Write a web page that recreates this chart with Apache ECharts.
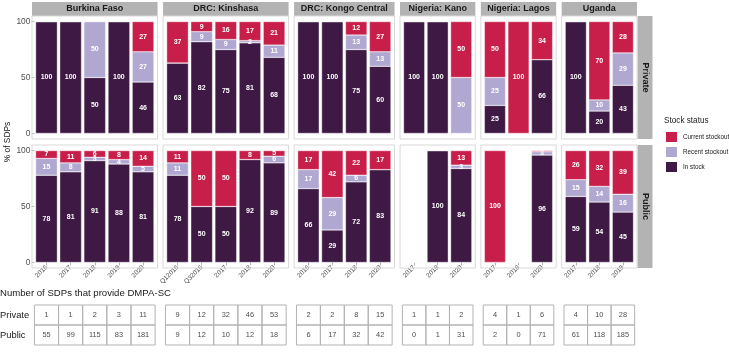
<!DOCTYPE html>
<html>
<head>
<meta charset="utf-8">
<script src="https://cdn.jsdelivr.net/npm/echarts@6/dist/echarts.min.js"></script>
<style>
  html, body { margin: 0; padding: 0; background: #fff; }
  #app { width: 729px; height: 355px; }
</style>
</head>
<body>
<div id="app"></div>
<script>
// facets and their survey rounds
const panels = ["Burkina Faso", "DRC: Kinshasa", "DRC: Kongo Central", "Nigeria: Kano", "Nigeria: Lagos", "Uganda"];
const rounds = [
  ["2016", "2017", "2018", "2019", "2020"],
  ["Q12016", "Q32016", "2017", "2018", "2020"],
  ["2016", "2017", "2018", "2020"],
  ["2017", "2018", "2020"],
  ["2017", "2018", "2020"],
  ["2017", "2018", "2019"]
];
const sectors = ["Private", "Public"];
const statuses = ["In stock", "Recent stockout", "Current stockout"];

// % of SDPs, private sector
const privInStock = [[100, 100, 50, 100, 46], [63, 82, 75, 81, 68], [100, 100, 75, 60], [100, 100, 0], [25, 0, 66], [100, 20, 43]];
const privRecent = [[0, 0, 50, 0, 27], [0, 9, 9, 2, 11], [0, 0, 13, 13], [0, 0, 50], [25, 0, 0], [0, 10, 29]];
const privCurrent = [[0, 0, 0, 0, 27], [37, 9, 16, 17, 21], [0, 0, 12, 27], [0, 0, 50], [50, 100, 34], [0, 70, 28]];

// % of SDPs, public sector
const pubInStock = [[78, 81, 91, 88, 81], [78, 50, 50, 92, 89], [66, 29, 72, 83], [0, 100, 84], [0, 0, 96], [59, 54, 45]];
const pubRecent = [[15, 8, 3, 4, 5], [11, 0, 0, 0, 6], [17, 29, 6, 0], [0, 0, 3], [0, 0, 3], [15, 14, 16]];
const pubCurrent = [[7, 11, 6, 8, 14], [11, 50, 50, 8, 5], [17, 42, 22, 17], [0, 0, 13], [100, 0, 1], [26, 32, 39]];

// number of SDPs that provide DMPA-SC
const nPrivate = [[1, 1, 2, 3, 11], [9, 12, 32, 46, 53], [2, 2, 8, 15], [1, 1, 2], [4, 1, 6], [4, 10, 28]];
const nPublic = [[55, 99, 115, 83, 181], [9, 12, 10, 12, 18], [6, 17, 32, 42], [0, 1, 31], [2, 0, 71], [61, 118, 185]];

const colors = { "In stock": "#3d1944", "Recent stockout": "#b1a8d2", "Current stockout": "#c81f4a" };
const FONT = "Liberation Sans, Arial, sans-serif";

// layout: panel width follows the number of rounds
const X0 = 32, X1 = 637, GAP = 5.5;
const rowTop = [16, 145], rowH = 123;
const nTotal = rounds.reduce((s, r) => s + r.length, 0);
const PU = (X1 - X0 - GAP * (panels.length - 1)) / nTotal;
const panelX = [], panelW = [], step = [];
let cx = X0;
rounds.forEach(r => {
  panelX.push(cx);
  panelW.push(r.length * PU);
  step.push(r.length * PU / (r.length + 0.2));
  cx += r.length * PU + GAP;
});

const stackData = [
  [privInStock, privRecent, privCurrent],
  [pubInStock, pubRecent, pubCurrent]
];

const grids = [], xAxes = [], yAxes = [], series = [];
sectors.forEach((sec, r) => {
  panels.forEach((p, c) => {
    const idx = grids.length;
    grids.push({
      left: panelX[c] + 0.1 * step[c],
      width: rounds[c].length * step[c],
      top: rowTop[r] + rowH * 0.05 / 1.1,
      height: rowH / 1.1
    });
    xAxes.push({
      type: "category", gridIndex: idx, data: rounds[c],
      axisLine: { show: false },
      axisTick: { show: r === 1, alignWithLabel: true, length: 3, lineStyle: { color: "#b3b3b3" } },
      axisLabel: { show: r === 1, rotate: 45, fontSize: 6.5, color: "#4d4d4d", fontFamily: FONT, margin: 4 }
    });
    yAxes.push({
      type: "value", gridIndex: idx, min: 0, max: 100, interval: 50,
      splitLine: { show: false },
      axisLine: { show: false },
      axisTick: { show: c === 0, length: 3, lineStyle: { color: "#b3b3b3" } },
      axisLabel: { show: c === 0, fontSize: 8.4, color: "#4d4d4d", fontFamily: FONT, margin: 4 }
    });
    statuses.forEach((st, k) => {
      series.push({
        name: st, type: "bar", stack: "s" + idx,
        xAxisIndex: idx, yAxisIndex: idx,
        barWidth: "90%",
        data: stackData[r][k][c],
        itemStyle: { color: colors[st], borderColor: "#ffffff", borderWidth: 0.4 },
        label: {
          show: true, position: "inside", color: "#ffffff", fontSize: 7, fontWeight: "bold", fontFamily: FONT,
          formatter: d => (d.value >= 2 ? d.value : "")
        },
        emphasis: { disabled: true }
      });
    });
  });
});

const chart = echarts.init(document.getElementById("app"));
chart.setOption({
  animation: false,
  grid: grids,
  xAxis: xAxes,
  yAxis: yAxes,
  series: series,
  legend: {
    data: ["Current stockout", "Recent stockout", "In stock"],
    orient: "vertical", left: 664, top: 130, padding: 0,
    itemWidth: 13, itemHeight: 12, itemGap: 1, icon: "rect",
    textStyle: { fontSize: 6.3, color: "#1a1a1a", fontFamily: FONT },
    selectedMode: false
  }
});

// strips, borders, titles and the count table
const g = [];
const txt = (x, y, text, font, extra) => ({
  type: "text", x: x, y: y,
  style: Object.assign({ text: text, font: font, fill: "#1a1a1a", textAlign: "left", textVerticalAlign: "middle" }, extra || {})
});

panels.forEach((p, c) => {
  g.push({ type: "rect", shape: { x: panelX[c], y: 2, width: panelW[c], height: 14 }, style: { fill: "#b3b3b3" } });
  g.push(txt(panelX[c] + panelW[c] / 2, 9, p, "bold 9px " + FONT, { textAlign: "center" }));
  rowTop.forEach(t => {
    g.push({ type: "rect", z: 10, shape: { x: panelX[c], y: t, width: panelW[c], height: rowH }, style: { fill: "none", stroke: "#d9d9d9", lineWidth: 1 } });
  });
});
sectors.forEach((s, r) => {
  g.push({ type: "rect", shape: { x: X1 + 0.5, y: rowTop[r], width: 15, height: rowH }, style: { fill: "#b3b3b3" } });
  g.push({
    type: "text", x: X1 + 8, y: rowTop[r] + rowH / 2, rotation: -Math.PI / 2,
    style: { text: s, font: "bold 9px " + FONT, fill: "#1a1a1a", textAlign: "center", textVerticalAlign: "middle" }
  });
});
g.push({
  type: "text", x: 8, y: 142, rotation: Math.PI / 2,
  style: { text: "% of SDPs", font: "8.4px " + FONT, fill: "#1a1a1a", textAlign: "center", textVerticalAlign: "middle" }
});
g.push(txt(664, 121, "Stock status", "8.2px " + FONT));

// table
g.push(txt(0, 293, "Number of SDPs that provide DMPA-SC", "9.6px " + FONT));
const tRow = [305, 325], cellH = 20;
[nPrivate, nPublic].forEach((counts, r) => {
  g.push(txt(0, tRow[r] + cellH / 2, sectors[r], "9.4px " + FONT));
  counts.forEach((arr, c) => {
    const axisIdx = panels.length + c;
    arr.forEach((v, i) => {
      const x = chart.convertToPixel({ xAxisIndex: axisIdx }, i);
      g.push({ type: "rect", shape: { x: x - step[c] / 2, y: tRow[r], width: step[c], height: cellH }, style: { fill: "none", stroke: "#b3b3b3", lineWidth: 1 } });
      g.push(txt(x, tRow[r] + cellH / 2, String(v), "7.4px " + FONT, { textAlign: "center", fill: "#4d4d4d" }));
    });
  });
});

chart.setOption({ graphic: g });
</script>
</body>
</html>
